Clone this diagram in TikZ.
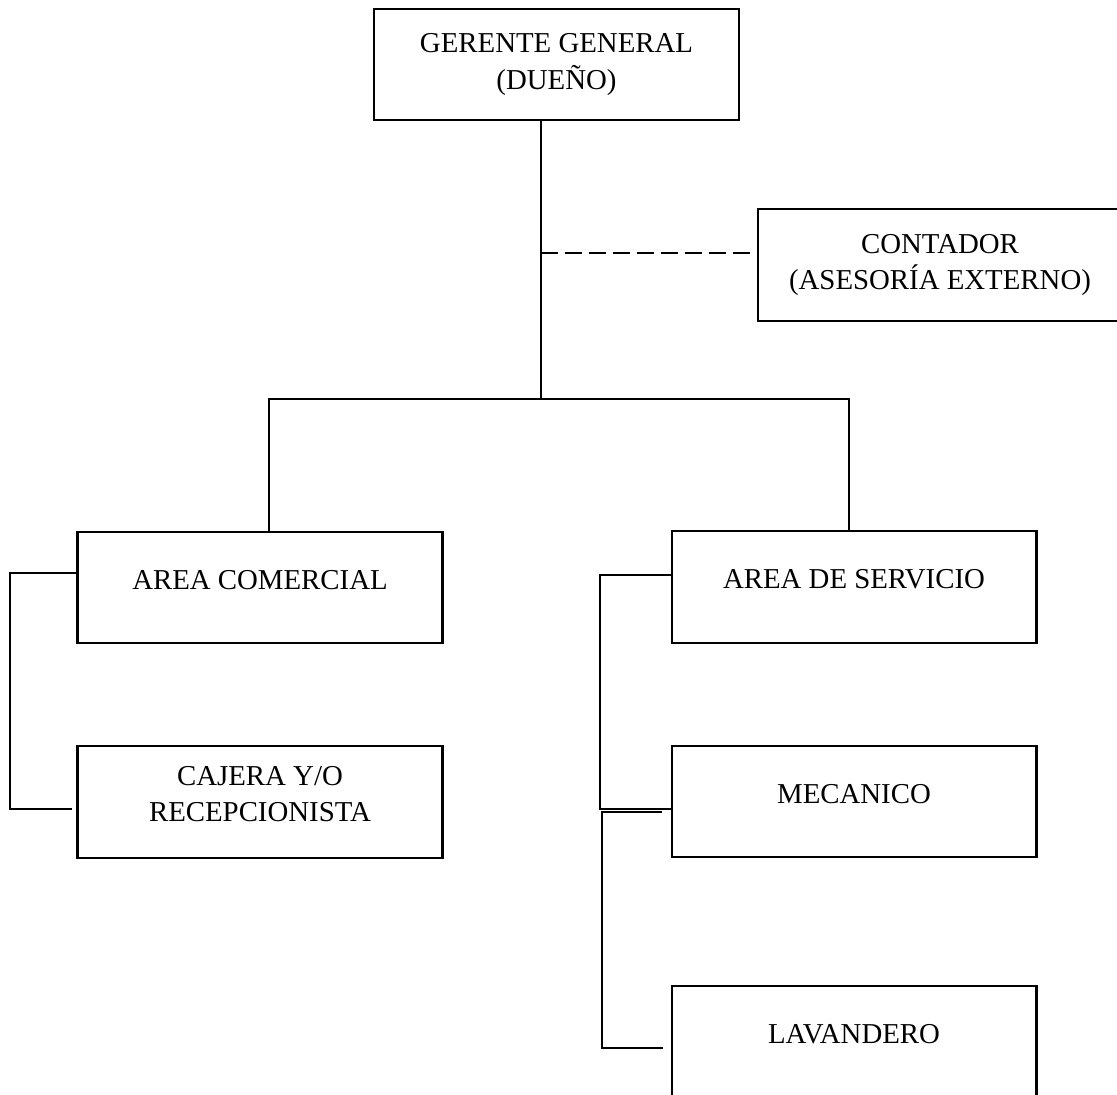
\documentclass[tikz,border=0pt]{standalone}
\usepackage{fontspec}
\setmainfont{Liberation Serif}
\usepackage{tikz}
\usetikzlibrary{positioning}

\begin{document}
\begin{tikzpicture}[
  x=0.025cm, y=-0.025cm,
  box/.style={draw, line width=1.5pt, minimum width=9.12cm, minimum height=2.78cm, inner sep=0pt, align=center, font=\fontsize{20.5}{26}\selectfont},
  lifted/.style={box, text depth=0.4cm},
  link/.style={line width=0.75pt},
  dashlink/.style={link, line width=1pt, dash pattern=on 0.43cm off 0.17cm}
]
  \useasboundingbox (0,0) rectangle (1117,1095);

  % Top
  \node[box] (gerente) at (556.5, 64.5) {GERENTE GENERAL\\(DUEÑO)};
  \node[box] (contador) at (940, 265) {CONTADOR\\(ASESORÍA EXTERNO)};

  % Areas
  \node[lifted] (comercial) at (260, 587.5) {AREA COMERCIAL};
  \node[lifted] (servicio) at (854, 587) {AREA DE SERVICIO};

  % Staff
  \node[lifted] (cajera) at (260, 802) {CAJERA Y/O\\RECEPCIONISTA};
  \node[lifted] (mecanico) at (854, 801.5) {MECANICO};
  \node[lifted] (lavandero) at (854, 1041.5) {LAVANDERO};

  % Main line
  \coordinate (hub) at (541, 399);
  \coordinate (staff) at (541, 253);
  \coordinate (lbranch) at (269, 399);
  \coordinate (rbranch) at (849, 399);
  \draw[link] (gerente.south -| hub) -- (hub);
  \draw[dashlink] (staff) -- (staff -| contador.west);
  \draw[link] (lbranch |- comercial.north) -- (lbranch) -- (rbranch) -- (rbranch |- servicio.north);

  % Left bracket
  \coordinate (ltop) at (10, 573);
  \coordinate (lbot) at (10, 809);
  \draw[link, shorten >=0.12cm] (ltop -| comercial.west) -- (ltop) -- (lbot) -- (lbot -| cajera.west);

  % Right bracket
  \coordinate (rtop) at (600, 575);
  \coordinate (rmid) at (600, 809);
  \draw[link] (rtop -| servicio.west) -- (rtop) -- (rmid) -- (rmid -| mecanico.west);
  \coordinate (rmid2) at (602, 812);
  \coordinate (rbot) at (602, 1048);
  \draw[link, shorten <=0.22cm, shorten >=0.18cm] (rmid2 -| mecanico.west) -- (rmid2) -- (rbot) -- (rbot -| lavandero.west);
\end{tikzpicture}
\end{document}
